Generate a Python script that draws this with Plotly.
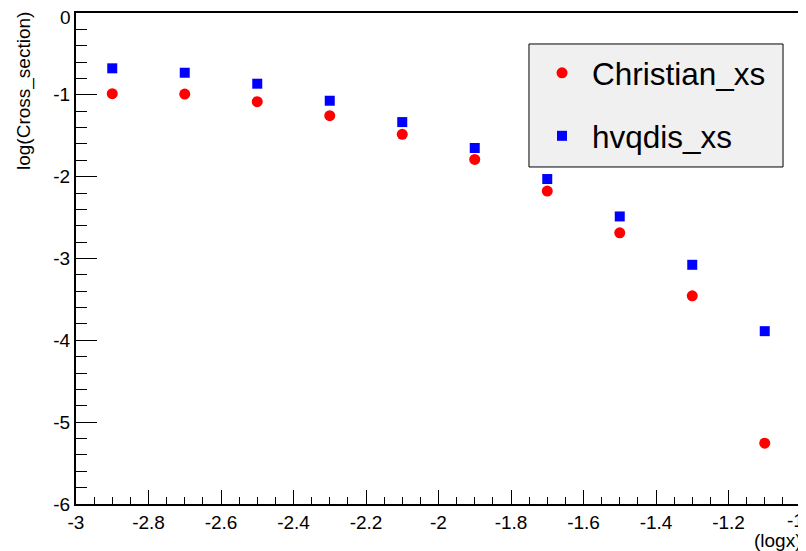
import plotly.graph_objects as go

logx = [-2.9, -2.7, -2.5, -2.3, -2.1, -1.9, -1.7, -1.5, -1.3, -1.1]
christian_xs = [-0.986, -0.99, -1.084, -1.255, -1.483, -1.789, -2.176, -2.686, -3.456, -5.257]
hvqdis_xs = [-0.676, -0.73, -0.864, -1.072, -1.333, -1.65, -2.029, -2.486, -3.077, -3.888]

x_tickvals = [-3, -2.8, -2.6, -2.4, -2.2, -2, -1.8, -1.6, -1.4, -1.2, -1]
x_ticktext = ["-3", "-2.8", "-2.6", "-2.4", "-2.2", "-2", "-1.8", "-1.6", "-1.4", "-1.2", "-1"]
y_tickvals = [0, -1, -2, -3, -4, -5, -6]
y_ticktext = ["0", "-1", "-2", "-3", "-4", "-5", "-6"]

FONT = "Liberation Sans, Arial, Helvetica, sans-serif"

fig = go.Figure()
fig.add_trace(go.Scatter(x=logx, y=christian_xs, mode="markers", name="Christian_xs",
                         legendgroup="a",
                         marker=dict(symbol="circle", size=11, color="#ff0000", line=dict(width=0))))
fig.add_trace(go.Scatter(x=logx, y=hvqdis_xs, mode="markers", name="hvqdis_xs",
                         legendgroup="b",
                         marker=dict(symbol="square", size=10, color="#0000ff", line=dict(width=0))))

axis_common = dict(
    showgrid=False, zeroline=False, showline=True, linecolor="black", linewidth=2,
    mirror=True, ticks="inside", tickcolor="black", tickwidth=1,
    ticklabeloverflow="hide past div", automargin=False,
    tickfont=dict(family=FONT, size=19, color="black"),
)

fig.update_xaxes(range=[-3, -1], tickmode="array", tickvals=x_tickvals, ticktext=x_ticktext,
                 ticklen=14,
                 minor=dict(dtick=0.05, tick0=-3, ticklen=7, ticks="inside", tickcolor="black", tickwidth=1),
                 **axis_common)
fig.update_yaxes(range=[-6, 0], tickmode="array", tickvals=y_tickvals, ticktext=y_ticktext,
                 ticklen=21,
                 minor=dict(dtick=0.2, tick0=0, ticklen=11, ticks="inside", tickcolor="black", tickwidth=1),
                 **axis_common)

# edge tick labels that would overflow the page are placed as ROOT places them
fig.add_annotation(text=y_ticktext[0], xref="paper", yref="paper",
                   x=0, xshift=-3, y=1, yshift=-4, xanchor="right", yanchor="middle",
                   showarrow=False, font=dict(family=FONT, size=19, color="black"))
fig.add_annotation(text=x_ticktext[-1], xref="paper", yref="paper",
                   x=1, xshift=5, y=0, yshift=-16, xanchor="right", yanchor="middle",
                   showarrow=False, font=dict(family=FONT, size=19, color="black"))

fig.add_annotation(text="log(Cross_section)", xref="paper", yref="paper",
                   x=-0.0, xshift=-52, y=1.0, yshift=3, textangle=-90,
                   xanchor="center", yanchor="top", showarrow=False,
                   font=dict(family=FONT, size=19, color="black"))
fig.add_annotation(text="(logx)", xref="paper", yref="paper",
                   x=1.0, xshift=3, y=0, yshift=-24, xanchor="right", yanchor="top", showarrow=False,
                   font=dict(family=FONT, size=19, color="black"))

# legend frame
fig.add_shape(type="rect", xref="paper", yref="paper",
              x0=0.6248, x1=0.9752, y0=0.6864, y1=0.9369,
              fillcolor="#f0f0f0", line=dict(color="black", width=1), layer="above")

# page body has an 8px margin, so the figure is shifted by 8px; compensate
fig.update_layout(
    width=798, height=543,
    margin=dict(l=68, r=5, t=5, b=47, autoexpand=False),
    paper_bgcolor="white", plot_bgcolor="white",
    font=dict(family=FONT, color="black"),
    showlegend=True,
    legend=dict(x=0.629, y=0.933, xanchor="left", yanchor="top",
                bgcolor="rgba(0,0,0,0)", borderwidth=0,
                font=dict(family=FONT, size=31.5, color="black"),
                tracegroupgap=19, itemwidth=50),
)

fig.write_html("out.html")
